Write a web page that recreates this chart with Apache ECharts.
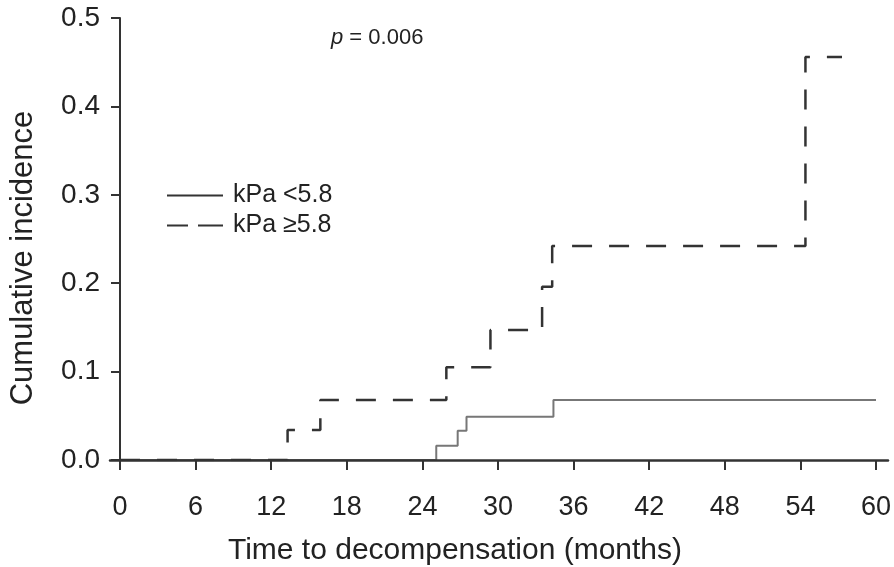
<!DOCTYPE html>
<html>
<head>
<meta charset="utf-8">
<script src="https://cdn.jsdelivr.net/npm/echarts@6/dist/echarts.min.js"></script>
<style>
  html, body { margin: 0; padding: 0; background: #fff; }
  #chart { width: 894px; height: 567px; }
</style>
</head>
<body>
<div id="chart"></div>
<script>
// step points: [month, cumulative incidence]
var lowKpa = [[0, 0], [25.1, 0.016], [26.8, 0.033], [27.5, 0.049], [34.4, 0.068], [60, 0.068]];
var highKpa = [[0, 0], [13.3, 0.034], [15.9, 0.068], [25.9, 0.105], [29.4, 0.147], [33.5, 0.196], [34.3, 0.242], [54.4, 0.456], [57.3, 0.456]];
var seriesNames = ['kPa <5.8', 'kPa \u22655.8'];
var xTicks = [0, 60, 6];   // min, max, step
var yTicks = [0, 0.5, 0.1];
var pText = '0.006';

var font = '"Liberation Sans", Arial, sans-serif';
var axisColor = '#333';

var chart = echarts.init(document.getElementById('chart'));
var option = {
   animation: false,
   backgroundColor: '#fff',
   title: {
      left: 326, top: 22,
      text: '{i|p} = ' + pText,
      textStyle: {
         fontFamily: font, fontSize: 22, fontWeight: 'normal', color: '#222',
         rich: { i: { fontFamily: font, fontSize: 22, fontStyle: 'italic', color: '#222' } }
      }
   },
   legend: {
      left: 162, top: 178, orient: 'vertical',
      itemWidth: 56, itemHeight: 2.5, itemGap: 5,
      textStyle: { fontFamily: font, fontSize: 25, color: '#222', lineHeight: 25, padding: [0, 0, 0, 5] },
      data: [
         { name: seriesNames[0], icon: 'path://M0,0h56v2h-56z', itemStyle: { color: '#333' } },
         { name: seriesNames[1], icon: 'path://M0,0h21v2h-21z M31,0h25v2h-25z', itemStyle: { color: '#333' } }
      ]
   },
   grid: [
      { left: 120, right: 18, top: 18, bottom: 107, outerBoundsMode: 'none' },
      // wider grid only used to draw the axis lines a little past the data range
      { left: 110, right: 6, top: 18, bottom: 99, outerBoundsMode: 'none' }
   ],
   xAxis: [{
      gridIndex: 0, type: 'value',
      min: xTicks[0], max: xTicks[1], interval: xTicks[2],
      name: 'Time to decompensation (months)', nameLocation: 'middle', nameGap: 76,
      nameTextStyle: { fontFamily: font, fontSize: 30, color: '#222', padding: [0, 86, 0, 0] },
      axisLine: { show: false },
      axisTick: { show: true, length: 10, lineStyle: { color: axisColor, width: 2 } },
      axisLabel: { fontFamily: font, fontSize: 27, color: '#222', margin: 34 },
      splitLine: { show: false }
   }, {
      gridIndex: 1, type: 'value', min: 0, max: 1, offset: -8, z: 5,
      axisLine: { show: true, onZero: false, lineStyle: { color: axisColor, width: 2.5 } },
      axisTick: { show: false }, axisLabel: { show: false }, splitLine: { show: false }
   }],
   yAxis: [{
      gridIndex: 0, type: 'value',
      min: yTicks[0], max: yTicks[1], interval: yTicks[2],
      name: 'Cumulative incidence', nameLocation: 'middle', nameGap: 81,
      nameTextStyle: { fontFamily: font, fontSize: 31, color: '#222', padding: [0, 38, 0, 0] },
      axisLine: { show: false },
      axisTick: { show: true, length: 9, lineStyle: { color: axisColor, width: 2 } },
      axisLabel: {
         fontFamily: font, fontSize: 28, color: '#222', margin: 20,
         formatter: function (v) { return v.toFixed(1); }
      },
      splitLine: { show: false }
   }, {
      gridIndex: 1, type: 'value', min: 0, max: 1, offset: -10, z: 5,
      axisLine: { show: true, onZero: false, lineStyle: { color: axisColor, width: 2 } },
      axisTick: { show: false }, axisLabel: { show: false }, splitLine: { show: false }
   }],
   series: [{
      name: seriesNames[0], type: 'line', step: 'end', symbol: 'none',
      xAxisIndex: 0, yAxisIndex: 0,
      lineStyle: { color: '#777', width: 2 },
      itemStyle: { color: '#777' },
      data: lowKpa
   }, {
      name: seriesNames[1], type: 'line', step: 'end', symbol: 'none',
      xAxisIndex: 0, yAxisIndex: 0,
      lineStyle: { color: '#333', width: 2.5, type: [20, 17] },
      itemStyle: { color: '#333' },
      data: highKpa
   }]
};
chart.setOption(option);
</script>
</body>
</html>
